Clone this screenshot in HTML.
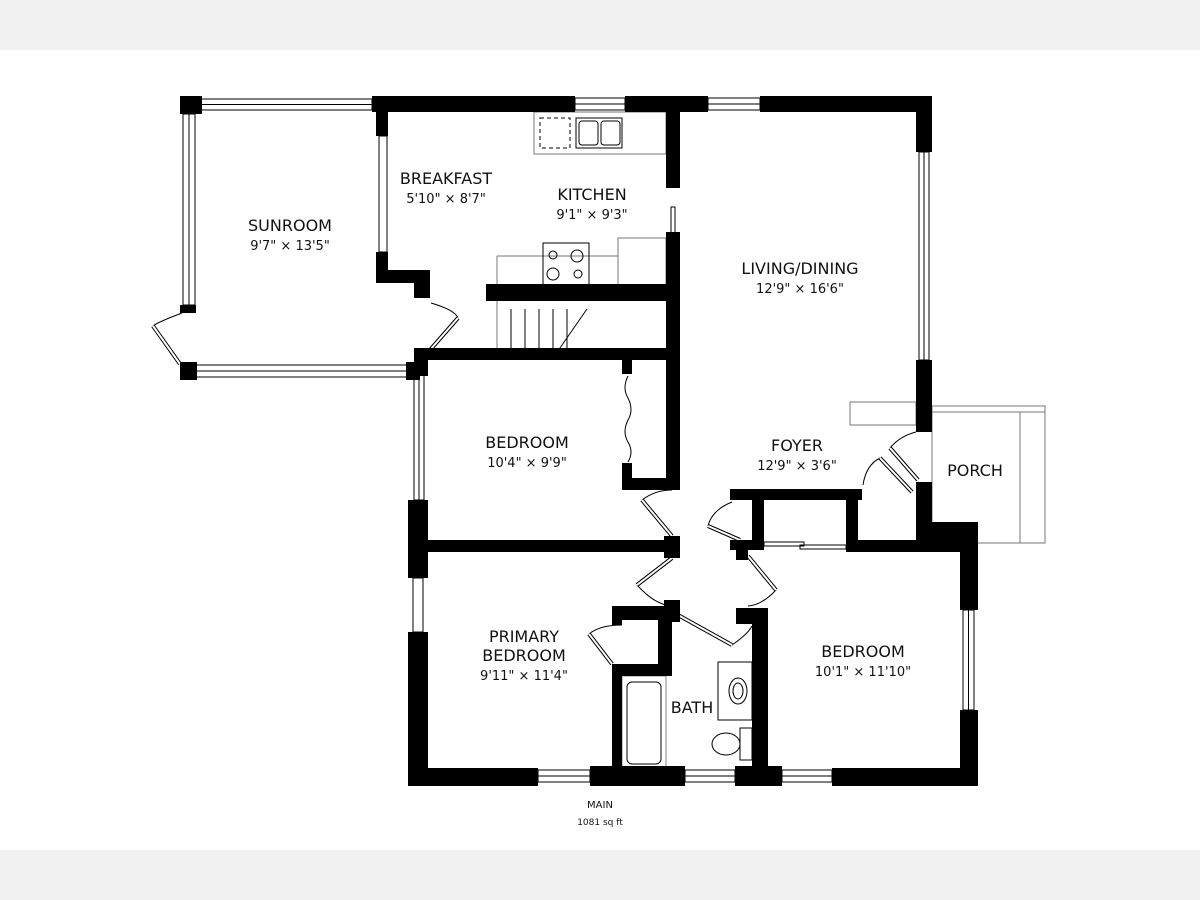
<!DOCTYPE html>
<html><head><meta charset="utf-8"><style>
html,body{margin:0;padding:0;background:#fff}
svg{display:block}
text{font-family:"DejaVu Sans","Liberation Sans",sans-serif;fill:#111;text-anchor:middle}
.n{font-size:16px}
.d{font-size:13px}
</style></head><body>
<svg width="1200" height="900" viewBox="0 0 1200 900" xmlns="http://www.w3.org/2000/svg">
<rect x="0" y="0" width="1200" height="50" fill="#f1f1f1"/>
<rect x="0" y="850" width="1200" height="50" fill="#f1f1f1"/>
<g fill="#fff" stroke="#000" stroke-width="1">
<rect x="200" y="99" width="172" height="11"/><line x1="200" y1="104.5" x2="372" y2="104.5"/>
<rect x="575" y="98" width="50" height="12"/><line x1="575" y1="104" x2="625" y2="104"/>
<rect x="708" y="98" width="52" height="12"/><line x1="708" y1="104" x2="760" y2="104"/>
<rect x="183" y="114" width="12" height="191"/><line x1="189" y1="114" x2="189" y2="305"/>
<rect x="196" y="365" width="212" height="12"/><line x1="196" y1="371" x2="408" y2="371"/>
<rect x="379" y="136" width="8" height="116"/>
<rect x="919" y="152" width="10" height="208"/><line x1="924" y1="152" x2="924" y2="360"/>
<rect x="414" y="375" width="10" height="125"/><line x1="419" y1="375" x2="419" y2="500"/>
<rect x="413" y="578" width="10" height="54"/>
<rect x="538" y="770" width="52" height="12"/><line x1="538" y1="776" x2="590" y2="776"/>
<rect x="685" y="770" width="50" height="12"/><line x1="685" y1="776" x2="735" y2="776"/>
<rect x="782" y="770" width="50" height="12"/><line x1="782" y1="776" x2="832" y2="776"/>
<rect x="963" y="610" width="11" height="100"/><line x1="968.5" y1="610" x2="968.5" y2="710"/>
<rect x="671" y="207" width="4" height="26"/>
</g>
<g fill="none" stroke="#777" stroke-width="1">
<rect x="932" y="406" width="113" height="137"/>
<line x1="932" y1="412" x2="1045" y2="412"/>
<line x1="1020" y1="412" x2="1020" y2="543"/>
<rect x="850" y="402" width="66" height="23"/>
<rect x="534" y="112" width="132" height="42"/>
<rect x="618" y="238" width="48" height="48"/>
<line x1="497" y1="256" x2="618" y2="256"/>
<line x1="497" y1="256" x2="497" y2="358"/>
</g>
<g fill="none" stroke="#000" stroke-width="1">
<rect x="540" y="118" width="30" height="30" stroke-dasharray="4 3"/>
<rect x="576" y="118" width="46" height="30"/>
<rect x="579" y="121" width="19" height="24" rx="3"/><rect x="601" y="121" width="19" height="24" rx="3"/>
<rect x="543" y="243" width="46" height="43"/>
<circle cx="553" cy="255" r="4"/><circle cx="577" cy="256" r="6"/><circle cx="553" cy="274" r="6"/><circle cx="578" cy="274" r="4"/>
<line x1="511" y1="309" x2="511" y2="358"/><line x1="525" y1="309" x2="525" y2="358"/><line x1="539" y1="309" x2="539" y2="358"/><line x1="553" y1="309" x2="553" y2="358"/><line x1="567" y1="309" x2="567" y2="358"/>
<line x1="587" y1="309" x2="553" y2="358"/>
<rect x="622" y="676" width="44" height="92" stroke="#888"/>
<rect x="627" y="682" width="34" height="82" rx="5"/>
<rect x="718" y="662" width="34" height="58"/>
<ellipse cx="738" cy="691" rx="9" ry="13"/><ellipse cx="738" cy="691" rx="5" ry="8"/>
<rect x="740" y="728" width="12" height="32"/>
<ellipse cx="726" cy="744" rx="14" ry="11"/>
<path d="M628 376 q-6 12 0 22 q6 12 0 22 q-6 12 0 22 q6 10 0 20"/>
<rect x="764" y="542" width="40" height="4"/><rect x="800" y="545" width="46" height="4"/>
<path d="M431 303 Q455 310 458 318"/>
<path d="M182 313 Q158 322 153 326"/>
<path d="M642 500 Q655 490 672 490"/>
<path d="M637 585 Q655 605 672 606"/>
<path d="M776 590 Q762 605 748 606"/>
<path d="M732 645 Q748 634 752 626"/>
<path d="M589 634 Q600 625 622 625"/>
<path d="M708 526 Q712 510 732 502"/>
<path d="M863 485 Q866 465 880 458"/>
<path d="M890 448 Q900 436 916 432"/>
</g>
<g fill="none" stroke="#000" stroke-width="4">
<path d="M458 318 L430 350"/><path d="M153 326 L180 364"/><path d="M642 500 L672 536"/>
<path d="M637 585 L672 558"/><path d="M776 590 L748 556"/><path d="M732 645 L678 615"/>
<path d="M589 634 L612 664"/><path d="M708 526 L740 540"/><path d="M880 458 L912 492"/>
<path d="M890 448 L918 480"/>
</g>
<g fill="none" stroke="#fff" stroke-width="2">
<path d="M458 318 L430 350"/><path d="M153 326 L180 364"/><path d="M642 500 L672 536"/>
<path d="M637 585 L672 558"/><path d="M776 590 L748 556"/><path d="M732 645 L678 615"/>
<path d="M589 634 L612 664"/><path d="M708 526 L740 540"/><path d="M880 458 L912 492"/>
<path d="M890 448 L918 480"/>
</g>
<g fill="#000">
<rect x="180" y="96" width="22" height="18"/>
<rect x="372" y="96" width="203" height="16"/>
<rect x="625" y="96" width="83" height="16"/>
<rect x="760" y="96" width="172" height="16"/>
<rect x="916" y="96" width="16" height="56"/>
<rect x="916" y="360" width="16" height="72"/>
<rect x="180" y="305" width="16" height="8"/>
<rect x="180" y="362" width="17" height="18"/>
<rect x="406" y="362" width="14" height="18"/>
<rect x="376" y="112" width="12" height="24"/>
<rect x="376" y="252" width="12" height="30"/>
<rect x="376" y="270" width="54" height="13"/>
<rect x="414" y="270" width="16" height="28"/>
<rect x="666" y="112" width="14" height="76"/>
<rect x="666" y="232" width="14" height="258"/>
<rect x="486" y="284" width="194" height="17"/>
<rect x="414" y="348" width="266" height="12"/>
<rect x="414" y="348" width="14" height="28"/>
<rect x="622" y="360" width="10" height="14"/>
<rect x="622" y="463" width="10" height="25"/>
<rect x="622" y="478" width="58" height="12"/>
<rect x="408" y="500" width="20" height="78"/>
<rect x="408" y="632" width="20" height="154"/>
<rect x="428" y="540" width="240" height="12"/>
<rect x="664" y="536" width="16" height="22"/>
<rect x="408" y="768" width="130" height="18"/>
<rect x="590" y="766" width="95" height="20"/>
<rect x="735" y="766" width="47" height="20"/>
<rect x="832" y="768" width="146" height="18"/>
<rect x="612" y="606" width="60" height="14"/>
<rect x="612" y="606" width="10" height="19"/>
<rect x="658" y="606" width="14" height="70"/>
<rect x="612" y="664" width="60" height="12"/>
<rect x="612" y="664" width="10" height="110"/>
<rect x="664" y="600" width="16" height="22"/>
<rect x="736" y="608" width="32" height="16"/>
<rect x="752" y="608" width="16" height="170"/>
<rect x="730" y="489" width="132" height="11"/>
<rect x="752" y="489" width="12" height="60"/>
<rect x="846" y="489" width="12" height="60"/>
<rect x="730" y="540" width="34" height="10"/>
<rect x="736" y="540" width="12" height="20"/>
<rect x="846" y="540" width="132" height="12"/>
<rect x="916" y="482" width="16" height="50"/>
<rect x="916" y="522" width="62" height="24"/>
<rect x="960" y="528" width="18" height="82"/>
<rect x="960" y="710" width="18" height="76"/>
</g>
<text class="n" x="290" y="231">SUNROOM</text><text class="d" x="290" y="250">9'7" × 13'5"</text>
<text class="n" x="446" y="184">BREAKFAST</text><text class="d" x="446" y="203">5'10" × 8'7"</text>
<text class="n" x="592" y="200">KITCHEN</text><text class="d" x="592" y="219">9'1" × 9'3"</text>
<text class="n" x="800" y="274">LIVING/DINING</text><text class="d" x="800" y="293">12'9" × 16'6"</text>
<text class="n" x="527" y="448">BEDROOM</text><text class="d" x="527" y="467">10'4" × 9'9"</text>
<text class="n" x="797" y="451">FOYER</text><text class="d" x="797" y="470">12'9" × 3'6"</text>
<text class="n" x="975" y="476">PORCH</text>
<text class="n" x="524" y="642">PRIMARY</text><text class="n" x="524" y="661">BEDROOM</text><text class="d" x="524" y="680">9'11" × 11'4"</text>
<text class="n" x="692" y="713">BATH</text>
<text class="n" x="863" y="657">BEDROOM</text><text class="d" x="863" y="676">10'1" × 11'10"</text>
<text x="600" y="808" style="font-size:10px">MAIN</text>
<text x="600" y="825" style="font-size:9px">1081 sq ft</text>
</svg>
</body></html>
